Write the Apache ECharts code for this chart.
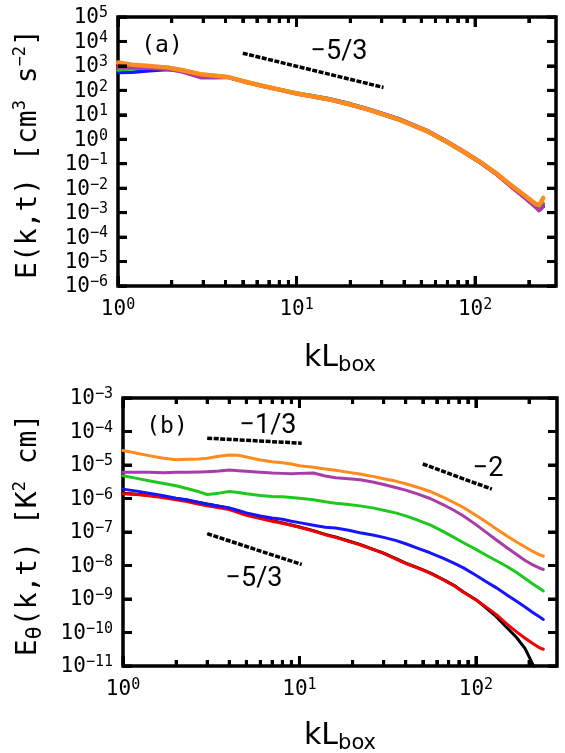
<!DOCTYPE html>
<html>
<head>
<meta charset="utf-8">
<script src="https://cdn.jsdelivr.net/npm/echarts@6/dist/echarts.min.js"></script>
<style>
  html, body { margin: 0; padding: 0; background: #fff; }
  #chart { width: 565px; height: 753px; }
</style>
</head>
<body>
<div id="chart"></div>
<script>
// ---- panel (a): kinetic energy spectra, log10 E(k,t) ----
const kA = [1, 1.2, 1.5, 1.9, 2.3, 2.9, 3.5, 4.1, 5.3, 6.5, 8, 10, 12, 15, 20, 25, 30, 37, 45, 55, 70, 85, 107, 130, 164, 190, 210, 221, 228, 235, 241];
const redA    = [3.05, 3.00, 2.97, 2.91, 2.80, 2.64, 2.58, 2.54, 2.32, 2.17, 2.02, 1.86, 1.76, 1.63, 1.41, 1.21, 1.03, 0.81, 0.56, 0.29, -0.13, -0.50, -0.96, -1.40, -2.02, -2.40, -2.66, -2.80, -2.88, -2.82, -2.68];
const blueA   = [2.73, 2.74, 2.80, 2.85, 2.80, 2.64, 2.59, 2.55, 2.33, 2.18, 2.04, 1.88, 1.79, 1.67, 1.45, 1.25, 1.07, 0.85, 0.60, 0.33, -0.09, -0.46, -0.92, -1.37, -1.98, -2.35, -2.62, -2.75, -2.80, -2.78, -2.75];
const greenA  = [2.83, 2.88, 2.92, 2.95, 2.83, 2.66, 2.61, 2.56, 2.34, 2.19, 2.05, 1.89, 1.79, 1.66, 1.44, 1.23, 1.05, 0.83, 0.58, 0.31, -0.11, -0.48, -0.94, -1.38, -1.98, -2.34, -2.60, -2.72, -2.75, -2.70, -2.62];
const purpleA = [2.94, 2.93, 2.90, 2.86, 2.75, 2.52, 2.52, 2.53, 2.32, 2.17, 2.02, 1.86, 1.76, 1.63, 1.41, 1.21, 1.03, 0.81, 0.56, 0.29, -0.13, -0.50, -0.96, -1.40, -2.02, -2.40, -2.68, -2.82, -2.92, -2.85, -2.70];
const orangeA = [3.14, 3.05, 3.00, 2.93, 2.82, 2.66, 2.60, 2.55, 2.33, 2.18, 2.03, 1.87, 1.77, 1.64, 1.42, 1.22, 1.04, 0.82, 0.57, 0.30, -0.12, -0.48, -0.93, -1.36, -1.95, -2.30, -2.55, -2.66, -2.68, -2.55, -2.40];

// ---- panel (b): temperature variance spectra, log10 E_theta(k,t) ----
const kB = [1, 1.2, 1.4, 1.7, 2, 2.3, 2.7, 3, 3.5, 4, 4.5, 5, 6, 7, 8, 9, 10, 12, 14, 16, 19, 22, 26, 30, 35, 40, 47, 55, 65, 75, 85, 100, 115, 130, 150, 170, 190, 210, 230, 241];
const blackB  = [-5.84, -5.87, -5.90, -5.95, -6.00, -6.05, -6.12, -6.16, -6.23, -6.29, -6.38, -6.47, -6.58, -6.66, -6.73, -6.79, -6.85, -6.96, -7.07, -7.15, -7.27, -7.37, -7.51, -7.63, -7.79, -7.93, -8.07, -8.22, -8.41, -8.59, -8.79, -9.02, -9.28, -9.52, -9.86, -10.15, -10.48, -10.95, -11.5, -11.8];
const redB    = [-5.86, -5.88, -5.92, -5.98, -6.04, -6.09, -6.17, -6.22, -6.28, -6.33, -6.42, -6.50, -6.60, -6.68, -6.74, -6.80, -6.86, -6.97, -7.08, -7.16, -7.28, -7.38, -7.52, -7.64, -7.80, -7.94, -8.08, -8.23, -8.42, -8.60, -8.80, -9.02, -9.25, -9.46, -9.75, -9.98, -10.17, -10.33, -10.46, -10.50];
const blueB   = [-5.72, -5.78, -5.84, -5.92, -5.99, -6.04, -6.12, -6.17, -6.23, -6.28, -6.36, -6.43, -6.52, -6.58, -6.62, -6.68, -6.72, -6.80, -6.86, -6.88, -6.95, -7.02, -7.09, -7.16, -7.25, -7.35, -7.49, -7.62, -7.78, -7.93, -8.07, -8.29, -8.49, -8.66, -8.88, -9.07, -9.24, -9.40, -9.54, -9.61];
const greenB  = [-5.32, -5.40, -5.47, -5.55, -5.62, -5.70, -5.80, -5.88, -5.84, -5.79, -5.82, -5.86, -5.91, -5.94, -5.95, -5.97, -5.99, -6.04, -6.10, -6.14, -6.18, -6.22, -6.28, -6.35, -6.43, -6.52, -6.65, -6.79, -6.98, -7.16, -7.32, -7.52, -7.70, -7.85, -8.03, -8.21, -8.39, -8.55, -8.69, -8.76];
const purpleB = [-5.22, -5.22, -5.22, -5.23, -5.22, -5.22, -5.21, -5.20, -5.18, -5.15, -5.17, -5.19, -5.22, -5.24, -5.25, -5.26, -5.25, -5.24, -5.33, -5.38, -5.41, -5.44, -5.51, -5.58, -5.67, -5.75, -5.87, -6.00, -6.18, -6.35, -6.52, -6.78, -7.02, -7.23, -7.47, -7.67, -7.85, -7.98, -8.08, -8.12];
const orangeB = [-4.57, -4.65, -4.72, -4.80, -4.84, -4.83, -4.82, -4.80, -4.74, -4.70, -4.71, -4.76, -4.85, -4.90, -4.93, -4.97, -5.02, -5.07, -5.12, -5.16, -5.22, -5.27, -5.34, -5.41, -5.48, -5.56, -5.67, -5.79, -5.96, -6.12, -6.27, -6.50, -6.71, -6.90, -7.12, -7.30, -7.45, -7.58, -7.68, -7.72];

// ---- reference slopes: end points [k, log10 value] ----
const slopeA53 = [[5, 3.52], [30.7, 2.12]];
const slopeB13 = [[3, -4.20], [10.3, -4.35]];
const slopeB53 = [[3, -7.05], [10.3, -7.97]];
const slopeB2  = [[50, -4.97], [123, -5.72]];

// ---- axes: ranges, decades and tick positions ----
const rangeA = { xMin: 1, xMax: 284, yMin: 1e-6, yMax: 1e5 };
const rangeB = { xMin: 1, xMax: 288, yMin: 1e-11, yMax: 1e-3 };
const xMajor = [1, 10, 100];
const xMinor = [2, 3, 4, 5, 6, 7, 8, 9, 20, 30, 40, 50, 60, 70, 80, 90, 200];
const yExpA = [-6, -5, -4, -3, -2, -1, 0, 1, 2, 3, 4, 5];
const yExpB = [-11, -10, -9, -8, -7, -6, -5, -4, -3];

const MONO = "'DejaVu Sans Mono', monospace";
const SANS = "'DejaVu Sans', sans-serif";
const SLOPE = "Roboto, 'DejaVu Sans', sans-serif";
const MINUS = '\u2212';

const COLORS = {
  black: '#000000', red: '#f20000', blue: '#1515ff',
  green: '#1ec81e', purple: '#a83ca8', orange: '#ff8a1e'
};

const decades = exps => exps.map(e => Math.pow(10, e));

function pairs(ks, logs) {
  return ks.map((k, i) => [k, Math.pow(10, logs[i])]);
}

function curve(gi, ks, logs, color, width) {
  return {
    type: 'line', xAxisIndex: gi, yAxisIndex: gi,
    data: pairs(ks, logs), showSymbol: false, symbol: 'none',
    lineStyle: { color: color, width: width, join: 'round', cap: 'round' },
    silent: true, z: 3
  };
}

function slope(gi, pts) {
  return {
    type: 'line', xAxisIndex: gi, yAxisIndex: gi,
    data: pts.map(p => [p[0], Math.pow(10, p[1])]),
    showSymbol: false, symbol: 'none',
    lineStyle: { color: '#000', width: 3.5, type: [5, 1.5] },
    silent: true, z: 4
  };
}

// log axis whose only visible part is a set of inward ticks at given values
function edgeAxis(gi, min, max, position, values, len) {
  return {
    type: 'log', logBase: 10, gridIndex: gi, min: min, max: max, position: position,
    axisLine: { show: false, onZero: false },
    axisLabel: { show: false },
    splitLine: { show: false }, minorTick: { show: false },
    axisTick: {
      show: true, inside: true, length: len, customValues: values,
      lineStyle: { color: '#000', width: 3 }
    },
    z: 12
  };
}

function powText(e) {
  const s = e < 0 ? MINUS + (-e) : String(e);
  return '{b|10}{s|' + s + '}';
}
const tickRich = {
  b: { fontFamily: MONO, fontSize: 21, lineHeight: 24, fill: '#000' },
  s: { fontFamily: MONO, fontSize: 15, lineHeight: 10, verticalAlign: 'top', fill: '#000' }
};
const titleRich = {
  t: { fontFamily: MONO, fontSize: 28, lineHeight: 34, fill: '#000' },
  u: { fontFamily: MONO, fontSize: 17, lineHeight: 12, verticalAlign: 'top', fill: '#000' },
  d: { fontFamily: MONO, fontSize: 22, lineHeight: 26, verticalAlign: 'bottom', fill: '#000' }
};
const kRich = {
  m: { fontFamily: SANS, fontSize: 30, lineHeight: 36, fill: '#000' },
  d: { fontFamily: SANS, fontSize: 21, lineHeight: 25, verticalAlign: 'bottom', fill: '#000' }
};

function label(x, y, text, family, size) {
  return {
    type: 'text', x: x, y: y, z: 20, silent: true,
    style: { text: text, fontFamily: family, fontSize: size, fill: '#000', align: 'center', verticalAlign: 'middle' }
  };
}

const chart = echarts.init(document.getElementById('chart'), null, { renderer: 'canvas' });
chart.setOption({
  backgroundColor: '#fff',
  animation: false,
  grid: [
    { left: 118, top: 17, width: 438, height: 269, show: true, borderColor: '#000', borderWidth: 3.5, backgroundColor: 'transparent' },
    { left: 123, top: 398, width: 434, height: 268, show: true, borderColor: '#000', borderWidth: 3.5, backgroundColor: 'transparent' }
  ],
  xAxis: [
    // indices 0 and 1 carry the data of panels (a) and (b)
    edgeAxis(0, rangeA.xMin, rangeA.xMax, 'bottom', xMajor, 10),
    edgeAxis(1, rangeB.xMin, rangeB.xMax, 'bottom', xMajor, 10),
    edgeAxis(0, rangeA.xMin, rangeA.xMax, 'bottom', xMinor, 6),
    edgeAxis(0, rangeA.xMin, rangeA.xMax, 'top', xMajor, 10),
    edgeAxis(0, rangeA.xMin, rangeA.xMax, 'top', xMinor, 6),
    edgeAxis(1, rangeB.xMin, rangeB.xMax, 'bottom', xMinor, 6),
    edgeAxis(1, rangeB.xMin, rangeB.xMax, 'top', xMajor, 10),
    edgeAxis(1, rangeB.xMin, rangeB.xMax, 'top', xMinor, 6)
  ],
  yAxis: [
    edgeAxis(0, rangeA.yMin, rangeA.yMax, 'left', decades(yExpA), 9),
    edgeAxis(1, rangeB.yMin, rangeB.yMax, 'left', decades(yExpB), 9),
    edgeAxis(0, rangeA.yMin, rangeA.yMax, 'right', decades(yExpA), 9),
    edgeAxis(1, rangeB.yMin, rangeB.yMax, 'right', decades(yExpB), 9)
  ],
  series: [
    slope(0, slopeA53),
    curve(0, kA, redA, COLORS.red, 3.5),
    curve(0, kA, blueA, COLORS.blue, 3.5),
    curve(0, kA, greenA, COLORS.green, 3.5),
    curve(0, kA, purpleA, COLORS.purple, 3.5),
    curve(0, kA, orangeA, COLORS.orange, 4.5),

    slope(1, slopeB13),
    slope(1, slopeB53),
    slope(1, slopeB2),
    curve(1, kB, blackB, COLORS.black, 3),
    curve(1, kB, redB, COLORS.red, 3),
    curve(1, kB, blueB, COLORS.blue, 3),
    curve(1, kB, greenB, COLORS.green, 3),
    curve(1, kB, purpleB, COLORS.purple, 3),
    curve(1, kB, orangeB, COLORS.orange, 3)
  ]
});

// ---- decade labels and matching tick bars, placed through each grid's scales ----
function tickBar(x, y, w, h) {
  return { type: 'rect', x: x, y: y, shape: { width: w, height: h }, style: { fill: '#000' }, z: 50, silent: true };
}

function frameGraphics(gi, r, yExp) {
  const toPx = pt => chart.convertToPixel({ gridIndex: gi }, pt);
  const tl = toPx([r.xMin, r.yMax]);
  const br = toPx([r.xMax, r.yMin]);
  const left = tl[0], top = tl[1], right = br[0], bottom = br[1];
  const out = [];
  xMajor.concat(xMinor).forEach(k => {
    const x = toPx([k, r.yMin])[0];
    const major = xMajor.indexOf(k) >= 0;
    const len = major ? 10 : 6;
    out.push(tickBar(x - 1.5, bottom - len, 3, len));
    out.push(tickBar(x - 1.5, top, 3, len));
    if (major) {
      out.push({
        type: 'text', x: x, y: bottom + 12, z: 50, silent: true,
        style: { text: powText(Math.round(Math.log10(k))), rich: tickRich, align: 'center', verticalAlign: 'top' }
      });
    }
  });
  yExp.forEach(e => {
    const y = toPx([r.xMin, Math.pow(10, e)])[1];
    out.push(tickBar(left, y - 1.5, 9, 3));
    out.push(tickBar(right - 9, y - 1.5, 9, 3));
    out.push({
      type: 'text', x: left - 10, y: y + 1, z: 50, silent: true,
      style: { text: powText(e), rich: tickRich, align: 'right', verticalAlign: 'middle' }
    });
  });
  return out;
}

const annotations = [
  // axis titles
  {
    type: 'text', x: 29, y: 154, rotation: Math.PI / 2, silent: true,
    style: { text: '{t|E(k,t) [cm}{u|3}{t| s}{u|' + MINUS + '2}{t|]}', rich: titleRich, align: 'center', verticalAlign: 'middle' }
  },
  {
    type: 'text', x: 29, y: 535, rotation: Math.PI / 2, silent: true,
    style: { text: '{t|E}{d|\u03b8}{t|(k,t) [K}{u|2}{t| cm]}', rich: titleRich, align: 'center', verticalAlign: 'middle' }
  },
  {
    type: 'text', x: 340, y: 358, silent: true,
    style: { text: '{m|kL}{d|box}', rich: kRich, align: 'center', verticalAlign: 'middle' }
  },
  {
    type: 'text', x: 340, y: 736, silent: true,
    style: { text: '{m|kL}{d|box}', rich: kRich, align: 'center', verticalAlign: 'middle' }
  },
  // panel tags and slope annotations
  label(162, 46, '(a)', MONO, 23),
  label(339, 52, MINUS + '5/3', SLOPE, 27),
  label(167, 427, '(b)', MONO, 23),
  label(268, 426, MINUS + '1/3', SLOPE, 27),
  label(488, 469, MINUS + '2', SLOPE, 27),
  label(254, 579, MINUS + '5/3', SLOPE, 27)
];

chart.setOption({
  graphic: annotations.concat(frameGraphics(0, rangeA, yExpA), frameGraphics(1, rangeB, yExpB))
});
</script>
</body>
</html>
